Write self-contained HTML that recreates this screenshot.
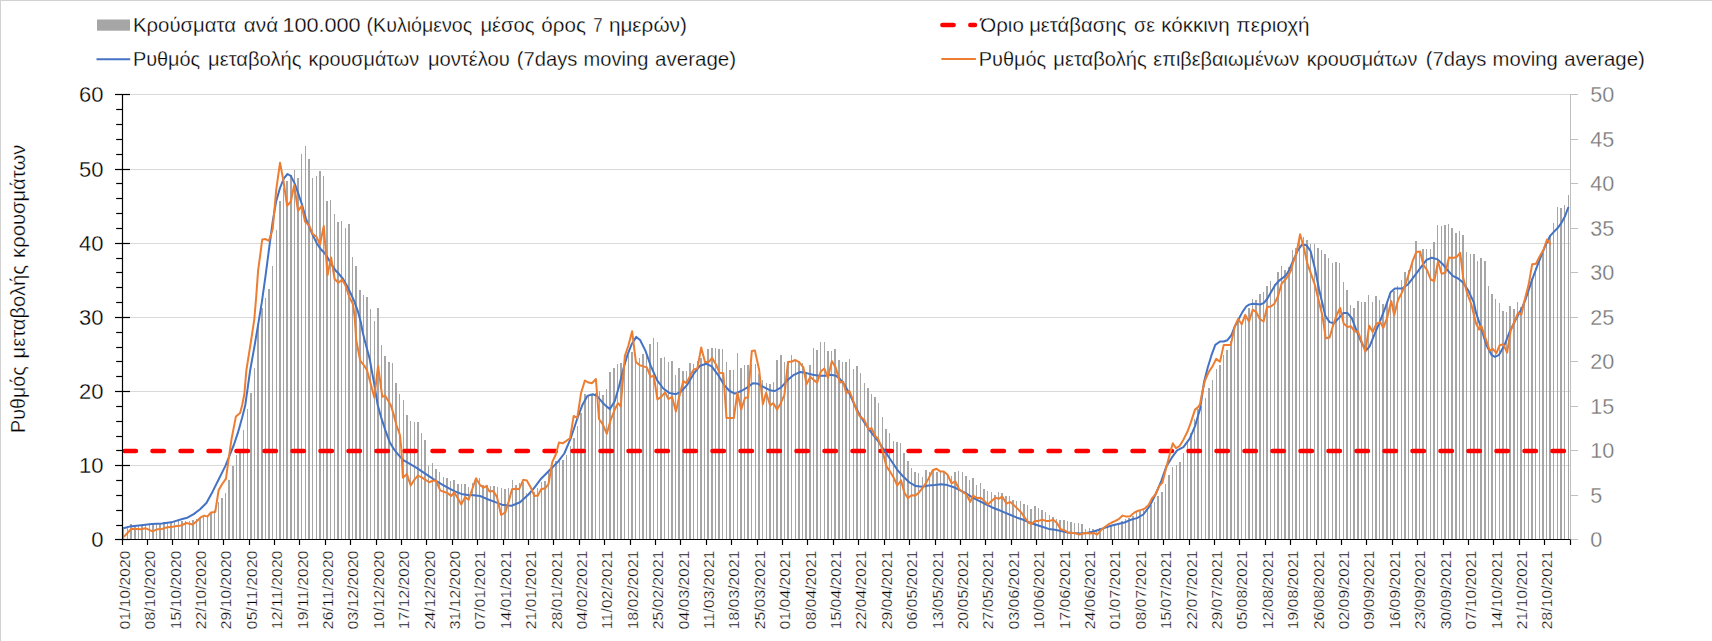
<!DOCTYPE html>
<html><head><meta charset="utf-8"><title>chart</title>
<style>
html,body{margin:0;padding:0;background:#fff;width:1712px;height:641px;overflow:hidden}
svg text{font-family:"Liberation Sans",sans-serif;stroke:#fff;stroke-width:0.3px}
</style></head><body>
<svg width="1712" height="641" viewBox="0 0 1712 641" style="position:absolute;left:0;top:0">
<rect x="0" y="0" width="1712" height="641" fill="#fff"/>
<rect x="0" y="0" width="1712" height="1" fill="#d2d2d2"/>
<rect x="0" y="0" width="1" height="641" fill="#d2d2d2"/>
<line x1="122.5" y1="465.50" x2="1570.5" y2="465.50" stroke="#d9d9d9" stroke-width="1"/>
<line x1="122.5" y1="391.50" x2="1570.5" y2="391.50" stroke="#d9d9d9" stroke-width="1"/>
<line x1="122.5" y1="317.50" x2="1570.5" y2="317.50" stroke="#d9d9d9" stroke-width="1"/>
<line x1="122.5" y1="243.50" x2="1570.5" y2="243.50" stroke="#d9d9d9" stroke-width="1"/>
<line x1="122.5" y1="169.50" x2="1570.5" y2="169.50" stroke="#d9d9d9" stroke-width="1"/>
<line x1="122.5" y1="94.50" x2="1570.5" y2="94.50" stroke="#d9d9d9" stroke-width="1"/>
<path d="M123,539.5V527h1V539.5zM127,539.5V526h1V539.5zM130,539.5V524h2V539.5zM134,539.5V525h2V539.5zM138,539.5V525h1V539.5zM141,539.5V525h2V539.5zM145,539.5V524h1V539.5zM149,539.5V524h1V539.5zM152,539.5V523h2V539.5zM156,539.5V523h1V539.5zM159,539.5V523h2V539.5zM163,539.5V522h2V539.5zM167,539.5V522h1V539.5zM170,539.5V522h2V539.5zM174,539.5V521h1V539.5zM178,539.5V521h1V539.5zM181,539.5V521h2V539.5zM185,539.5V521h1V539.5zM189,539.5V521h1V539.5zM192,539.5V520h2V539.5zM196,539.5V519h1V539.5zM199,539.5V518h2V539.5zM203,539.5V517h1V539.5zM207,539.5V515h1V539.5zM210,539.5V513h2V539.5zM214,539.5V510h1V539.5zM218,539.5V502h1V539.5zM221,539.5V498h2V539.5zM225,539.5V493h1V539.5zM228,539.5V480h2V539.5zM232,539.5V466h2V539.5zM236,539.5V455h1V539.5zM239,539.5V450h2V539.5zM243,539.5V430h1V539.5zM247,539.5V409h1V539.5zM250,539.5V393h2V539.5zM254,539.5V368h1V539.5zM257,539.5V324h2V539.5zM261,539.5V308h2V539.5zM265,539.5V298h1V539.5zM268,539.5V289h2V539.5zM272,539.5V266h1V539.5zM276,539.5V230h1V539.5zM279,539.5V201h2V539.5zM283,539.5V188h1V539.5zM286,539.5V181h2V539.5zM290,539.5V175h2V539.5zM294,539.5V170h1V539.5zM297,539.5V178h2V539.5zM301,539.5V154h1V539.5zM305,539.5V146h1V539.5zM308,539.5V159h2V539.5zM312,539.5V178h1V539.5zM316,539.5V176h1V539.5zM319,539.5V171h2V539.5zM323,539.5V176h1V539.5zM326,539.5V201h2V539.5zM330,539.5V200h1V539.5zM334,539.5V214h1V539.5zM337,539.5V222h2V539.5zM341,539.5V221h1V539.5zM345,539.5V228h1V539.5zM348,539.5V224h2V539.5zM352,539.5V257h1V539.5zM355,539.5V266h2V539.5zM359,539.5V290h2V539.5zM363,539.5V295h1V539.5zM366,539.5V297h2V539.5zM370,539.5V309h1V539.5zM374,539.5V321h1V539.5zM377,539.5V308h2V539.5zM381,539.5V345h1V539.5zM384,539.5V356h2V539.5zM388,539.5V362h2V539.5zM392,539.5V363h1V539.5zM395,539.5V383h2V539.5zM399,539.5V394h1V539.5zM403,539.5V400h1V539.5zM406,539.5V415h2V539.5zM410,539.5V421h1V539.5zM414,539.5V422h1V539.5zM417,539.5V422h2V539.5zM421,539.5V433h1V539.5zM424,539.5V440h2V539.5zM428,539.5V466h1V539.5zM432,539.5V463h1V539.5zM435,539.5V469h2V539.5zM439,539.5V472h1V539.5zM443,539.5V477h1V539.5zM446,539.5V478h2V539.5zM450,539.5V481h1V539.5zM453,539.5V480h2V539.5zM457,539.5V484h2V539.5zM461,539.5V484h1V539.5zM464,539.5V484h2V539.5zM468,539.5V487h1V539.5zM472,539.5V483h1V539.5zM475,539.5V478h2V539.5zM479,539.5V478h1V539.5zM482,539.5V485h2V539.5zM486,539.5V485h2V539.5zM490,539.5V486h1V539.5zM493,539.5V486h2V539.5zM497,539.5V487h1V539.5zM501,539.5V488h1V539.5zM504,539.5V489h2V539.5zM508,539.5V488h1V539.5zM512,539.5V480h1V539.5zM515,539.5V485h2V539.5zM519,539.5V483h1V539.5zM522,539.5V482h2V539.5zM526,539.5V493h1V539.5zM530,539.5V492h1V539.5zM533,539.5V492h2V539.5zM537,539.5V488h1V539.5zM541,539.5V482h1V539.5zM544,539.5V481h2V539.5zM548,539.5V472h1V539.5zM551,539.5V467h2V539.5zM555,539.5V461h2V539.5zM559,539.5V461h1V539.5zM562,539.5V460h2V539.5zM566,539.5V455h1V539.5zM570,539.5V446h1V539.5zM573,539.5V438h2V539.5zM577,539.5V426h1V539.5zM580,539.5V413h2V539.5zM584,539.5V394h2V539.5zM588,539.5V396h1V539.5zM591,539.5V395h2V539.5zM595,539.5V393h1V539.5zM599,539.5V391h1V539.5zM602,539.5V395h2V539.5zM606,539.5V389h1V539.5zM609,539.5V372h2V539.5zM613,539.5V368h2V539.5zM617,539.5V364h1V539.5zM620,539.5V363h2V539.5zM624,539.5V361h1V539.5zM628,539.5V355h1V539.5zM631,539.5V352h2V539.5zM635,539.5V357h1V539.5zM639,539.5V358h1V539.5zM642,539.5V354h2V539.5zM646,539.5V352h1V539.5zM649,539.5V344h2V539.5zM653,539.5V338h1V539.5zM657,539.5V342h1V539.5zM660,539.5V358h2V539.5zM664,539.5V357h1V539.5zM668,539.5V362h1V539.5zM671,539.5V361h2V539.5zM675,539.5V375h1V539.5zM678,539.5V368h2V539.5zM682,539.5V371h2V539.5zM686,539.5V371h1V539.5zM689,539.5V363h2V539.5zM693,539.5V364h1V539.5zM697,539.5V361h1V539.5zM700,539.5V358h2V539.5zM704,539.5V361h1V539.5zM707,539.5V349h2V539.5zM711,539.5V348h2V539.5zM715,539.5V348h1V539.5zM718,539.5V349h2V539.5zM722,539.5V349h1V539.5zM726,539.5V362h1V539.5zM729,539.5V370h2V539.5zM733,539.5V370h1V539.5zM737,539.5V353h1V539.5zM740,539.5V368h2V539.5zM744,539.5V365h1V539.5zM747,539.5V365h2V539.5zM751,539.5V364h1V539.5zM755,539.5V364h1V539.5zM758,539.5V374h2V539.5zM762,539.5V380h1V539.5zM766,539.5V383h1V539.5zM769,539.5V384h2V539.5zM773,539.5V382h1V539.5zM776,539.5V360h2V539.5zM780,539.5V355h2V539.5zM784,539.5V362h1V539.5zM787,539.5V361h2V539.5zM791,539.5V355h1V539.5zM795,539.5V360h1V539.5zM798,539.5V361h2V539.5zM802,539.5V363h1V539.5zM805,539.5V372h2V539.5zM809,539.5V365h2V539.5zM813,539.5V348h1V539.5zM816,539.5V350h2V539.5zM820,539.5V342h1V539.5zM824,539.5V342h1V539.5zM827,539.5V351h2V539.5zM831,539.5V351h1V539.5zM834,539.5V349h2V539.5zM838,539.5V360h2V539.5zM842,539.5V362h1V539.5zM845,539.5V362h2V539.5zM849,539.5V359h1V539.5zM853,539.5V369h1V539.5zM856,539.5V366h2V539.5zM860,539.5V373h1V539.5zM864,539.5V383h1V539.5zM867,539.5V388h2V539.5zM871,539.5V394h1V539.5zM874,539.5V397h2V539.5zM878,539.5V403h1V539.5zM882,539.5V417h1V539.5zM885,539.5V429h2V539.5zM889,539.5V433h1V539.5zM893,539.5V441h1V539.5zM896,539.5V442h2V539.5zM900,539.5V443h1V539.5zM903,539.5V453h2V539.5zM907,539.5V461h2V539.5zM911,539.5V468h1V539.5zM914,539.5V472h2V539.5zM918,539.5V473h1V539.5zM922,539.5V477h1V539.5zM925,539.5V470h2V539.5zM929,539.5V472h1V539.5zM932,539.5V471h2V539.5zM936,539.5V472h2V539.5zM940,539.5V471h1V539.5zM943,539.5V472h2V539.5zM947,539.5V474h1V539.5zM951,539.5V476h1V539.5zM954,539.5V472h2V539.5zM958,539.5V471h1V539.5zM962,539.5V472h1V539.5zM965,539.5V476h2V539.5zM969,539.5V480h1V539.5zM972,539.5V478h2V539.5zM976,539.5V485h1V539.5zM980,539.5V483h1V539.5zM983,539.5V489h2V539.5zM987,539.5V491h1V539.5zM991,539.5V492h1V539.5zM994,539.5V495h2V539.5zM998,539.5V492h1V539.5zM1001,539.5V493h2V539.5zM1005,539.5V496h2V539.5zM1009,539.5V496h1V539.5zM1012,539.5V500h2V539.5zM1016,539.5V501h1V539.5zM1020,539.5V501h1V539.5zM1023,539.5V504h2V539.5zM1027,539.5V505h1V539.5zM1030,539.5V509h2V539.5zM1034,539.5V506h2V539.5zM1038,539.5V508h1V539.5zM1041,539.5V510h2V539.5zM1045,539.5V512h1V539.5zM1049,539.5V515h1V539.5zM1052,539.5V517h2V539.5zM1056,539.5V519h1V539.5zM1059,539.5V520h2V539.5zM1063,539.5V520h2V539.5zM1067,539.5V521h1V539.5zM1070,539.5V522h2V539.5zM1074,539.5V523h1V539.5zM1078,539.5V523h1V539.5zM1081,539.5V524h2V539.5zM1085,539.5V529h1V539.5zM1089,539.5V528h1V539.5zM1092,539.5V529h2V539.5zM1096,539.5V530h1V539.5zM1099,539.5V528h2V539.5zM1103,539.5V527h1V539.5zM1107,539.5V526h1V539.5zM1110,539.5V525h2V539.5zM1114,539.5V524h1V539.5zM1118,539.5V523h1V539.5zM1121,539.5V521h2V539.5zM1125,539.5V519h1V539.5zM1128,539.5V518h2V539.5zM1132,539.5V516h2V539.5zM1136,539.5V512h1V539.5zM1139,539.5V511h2V539.5zM1143,539.5V510h1V539.5zM1147,539.5V509h1V539.5zM1150,539.5V505h2V539.5zM1154,539.5V502h1V539.5zM1157,539.5V496h2V539.5zM1161,539.5V492h2V539.5zM1165,539.5V484h1V539.5zM1168,539.5V475h2V539.5zM1172,539.5V467h1V539.5zM1176,539.5V465h1V539.5zM1179,539.5V462h2V539.5zM1183,539.5V453h1V539.5zM1187,539.5V441h1V539.5zM1190,539.5V433h2V539.5zM1194,539.5V419h1V539.5zM1197,539.5V409h2V539.5zM1201,539.5V406h1V539.5zM1205,539.5V398h1V539.5zM1208,539.5V388h2V539.5zM1212,539.5V380h1V539.5zM1216,539.5V369h1V539.5zM1219,539.5V365h2V539.5zM1223,539.5V355h1V539.5zM1226,539.5V350h2V539.5zM1230,539.5V341h2V539.5zM1234,539.5V325h1V539.5zM1237,539.5V321h2V539.5zM1241,539.5V322h1V539.5zM1245,539.5V315h1V539.5zM1248,539.5V308h2V539.5zM1252,539.5V299h1V539.5zM1255,539.5V300h2V539.5zM1259,539.5V294h2V539.5zM1263,539.5V292h1V539.5zM1266,539.5V286h2V539.5zM1270,539.5V281h1V539.5zM1274,539.5V284h1V539.5zM1277,539.5V272h2V539.5zM1281,539.5V266h1V539.5zM1284,539.5V270h2V539.5zM1288,539.5V267h2V539.5zM1292,539.5V250h1V539.5zM1295,539.5V248h2V539.5zM1299,539.5V235h1V539.5zM1303,539.5V237h1V539.5zM1306,539.5V240h2V539.5zM1310,539.5V244h1V539.5zM1314,539.5V244h1V539.5zM1317,539.5V248h2V539.5zM1321,539.5V250h1V539.5zM1324,539.5V254h2V539.5zM1328,539.5V258h1V539.5zM1332,539.5V263h1V539.5zM1335,539.5V262h2V539.5zM1339,539.5V263h1V539.5zM1343,539.5V282h1V539.5zM1346,539.5V290h2V539.5zM1350,539.5V305h1V539.5zM1353,539.5V308h2V539.5zM1357,539.5V301h2V539.5zM1361,539.5V302h1V539.5zM1364,539.5V302h2V539.5zM1368,539.5V295h1V539.5zM1372,539.5V302h1V539.5zM1375,539.5V296h2V539.5zM1379,539.5V300h1V539.5zM1382,539.5V304h2V539.5zM1386,539.5V303h2V539.5zM1390,539.5V295h1V539.5zM1393,539.5V291h2V539.5zM1397,539.5V286h1V539.5zM1401,539.5V280h1V539.5zM1404,539.5V272h2V539.5zM1408,539.5V270h1V539.5zM1412,539.5V263h1V539.5zM1415,539.5V241h2V539.5zM1419,539.5V252h1V539.5zM1422,539.5V249h2V539.5zM1426,539.5V249h1V539.5zM1430,539.5V249h1V539.5zM1433,539.5V242h2V539.5zM1437,539.5V225h1V539.5zM1441,539.5V226h1V539.5zM1444,539.5V225h2V539.5zM1448,539.5V224h1V539.5zM1451,539.5V228h2V539.5zM1455,539.5V233h2V539.5zM1459,539.5V231h1V539.5zM1462,539.5V235h2V539.5zM1466,539.5V252h1V539.5zM1470,539.5V254h1V539.5zM1473,539.5V254h2V539.5zM1477,539.5V261h1V539.5zM1480,539.5V258h2V539.5zM1484,539.5V261h2V539.5zM1488,539.5V286h1V539.5zM1491,539.5V294h2V539.5zM1495,539.5V299h1V539.5zM1499,539.5V303h1V539.5zM1502,539.5V311h2V539.5zM1506,539.5V312h1V539.5zM1509,539.5V306h2V539.5zM1513,539.5V309h2V539.5zM1517,539.5V302h1V539.5zM1520,539.5V307h2V539.5zM1524,539.5V300h1V539.5zM1528,539.5V293h1V539.5zM1531,539.5V278h2V539.5zM1535,539.5V268h1V539.5zM1539,539.5V260h1V539.5zM1542,539.5V253h2V539.5zM1546,539.5V244h1V539.5zM1549,539.5V235h2V539.5zM1553,539.5V223h1V539.5zM1557,539.5V207h1V539.5zM1560,539.5V208h2V539.5zM1564,539.5V205h1V539.5zM1568,539.5V195h1V539.5z" fill="#a6a6a6" shape-rendering="auto"/>
<line x1="1570.5" y1="94.0" x2="1570.5" y2="540.0" stroke="#bfbfbf" stroke-width="1"/>
<line x1="1570.5" y1="539.50" x2="1578.0" y2="539.50" stroke="#bfbfbf" stroke-width="1"/>
<text x="1590.3" y="547.2" font-size="21.6" fill="#737373">0</text>
<line x1="1570.5" y1="495.50" x2="1578.0" y2="495.50" stroke="#bfbfbf" stroke-width="1"/>
<text x="1590.3" y="503.2" font-size="21.6" fill="#737373">5</text>
<line x1="1570.5" y1="450.50" x2="1578.0" y2="450.50" stroke="#bfbfbf" stroke-width="1"/>
<text x="1590.3" y="458.2" font-size="21.6" fill="#737373">10</text>
<line x1="1570.5" y1="406.50" x2="1578.0" y2="406.50" stroke="#bfbfbf" stroke-width="1"/>
<text x="1590.3" y="414.2" font-size="21.6" fill="#737373">15</text>
<line x1="1570.5" y1="361.50" x2="1578.0" y2="361.50" stroke="#bfbfbf" stroke-width="1"/>
<text x="1590.3" y="369.2" font-size="21.6" fill="#737373">20</text>
<line x1="1570.5" y1="317.50" x2="1578.0" y2="317.50" stroke="#bfbfbf" stroke-width="1"/>
<text x="1590.3" y="325.2" font-size="21.6" fill="#737373">25</text>
<line x1="1570.5" y1="272.50" x2="1578.0" y2="272.50" stroke="#bfbfbf" stroke-width="1"/>
<text x="1590.3" y="280.2" font-size="21.6" fill="#737373">30</text>
<line x1="1570.5" y1="228.50" x2="1578.0" y2="228.50" stroke="#bfbfbf" stroke-width="1"/>
<text x="1590.3" y="236.2" font-size="21.6" fill="#737373">35</text>
<line x1="1570.5" y1="183.50" x2="1578.0" y2="183.50" stroke="#bfbfbf" stroke-width="1"/>
<text x="1590.3" y="191.2" font-size="21.6" fill="#737373">40</text>
<line x1="1570.5" y1="139.50" x2="1578.0" y2="139.50" stroke="#bfbfbf" stroke-width="1"/>
<text x="1590.3" y="147.2" font-size="21.6" fill="#737373">45</text>
<line x1="1570.5" y1="94.50" x2="1578.0" y2="94.50" stroke="#bfbfbf" stroke-width="1"/>
<text x="1590.3" y="102.2" font-size="21.6" fill="#737373">50</text>
<line x1="124.45" y1="451.00" x2="1569" y2="451.00" stroke="#ff0000" stroke-width="4.5" stroke-linecap="round" stroke-dasharray="11.5 16.5"/>
<path d="M124.3,528.0 L129.5,526.6 L141.1,525.3 L151.6,524.0 L162.1,523.6 L172.7,521.9 L183.2,518.8 L187.4,517.7 L193.7,514.1 L200.1,509.3 L206.4,503.0 L212.7,491.4 L219.0,478.7 L225.3,466.1 L229.5,455.6 L233.8,445.0 L238.0,432.4 L242.2,417.6 L245.3,405.0 L250.2,370.0 L254.3,347.4 L258.1,324.9 L261.8,302.4 L265.5,276.2 L268.9,250.0 L272.7,221.7 L276.2,201.1 L280.0,188.0 L283.7,178.7 L287.5,174.0 L290.8,175.9 L294.6,183.4 L298.3,193.7 L302.1,204.9 L305.9,218.5 L309.4,227.5 L313.1,235.9 L316.8,243.4 L320.6,249.0 L324.3,252.8 L328.1,258.4 L331.8,264.9 L335.6,270.5 L339.3,274.3 L343.1,279.0 L346.8,285.5 L350.5,293.0 L354.3,301.4 L358.0,311.7 L360.8,322.0 L362.7,332.3 L364.6,340.0 L369.6,358.5 L373.8,381.6 L377.7,405.0 L381.2,417.6 L385.4,430.3 L389.6,441.9 L393.9,449.2 L398.1,454.5 L403.3,460.2 L410.7,464.4 L417.0,468.2 L423.3,472.4 L429.7,476.6 L436.0,480.8 L442.3,484.6 L448.6,488.2 L454.9,491.4 L461.3,493.9 L467.6,495.0 L473.9,495.2 L480.0,496.0 L486.3,498.7 L494.7,501.9 L503.2,505.1 L511.6,505.7 L520.0,502.3 L528.5,494.5 L534.8,487.2 L541.1,478.7 L549.5,470.3 L557.9,461.9 L564.3,453.5 L570.6,438.7 L576.9,419.7 L582.2,405.3 L587.4,395.9 L592.7,394.2 L596.9,395.9 L602.2,402.2 L606.4,406.4 L610.0,409.1 L614.8,401.1 L619.0,386.4 L623.2,369.5 L627.5,354.8 L631.7,344.2 L636.3,336.9 L640.1,340.0 L645.4,350.6 L650.6,365.3 L657.0,380.1 L663.3,388.5 L669.6,393.1 L675.9,394.2 L681.2,391.6 L687.5,384.3 L693.8,373.7 L700.1,365.7 L706.5,363.8 L711.7,366.4 L718.0,374.8 L724.4,385.3 L729.6,391.0 L734.9,393.7 L741.2,391.0 L747.5,387.4 L752.8,383.2 L758.1,383.8 L763.3,386.8 L769.7,390.2 L774.9,391.0 L781.2,387.4 L787.6,380.1 L793.9,374.8 L800.2,372.0 L806.5,373.1 L812.8,374.8 L819.2,375.8 L825.5,375.8 L830.7,374.8 L836.0,375.8 L840.0,379.0 L844.2,384.3 L849.5,393.7 L854.7,405.3 L860.0,415.5 L865.3,424.0 L871.6,432.8 L877.9,440.8 L884.2,450.3 L890.6,459.8 L896.9,469.3 L903.2,476.6 L909.5,482.5 L915.8,486.1 L922.2,486.7 L928.5,485.5 L934.8,485.1 L941.1,484.2 L947.4,485.1 L953.8,487.2 L960.1,490.3 L966.4,493.5 L972.7,497.7 L979.0,500.9 L985.4,504.0 L991.7,507.2 L998.0,509.7 L1004.3,512.4 L1010.6,515.0 L1017.0,517.7 L1023.3,519.8 L1029.6,522.5 L1035.9,524.7 L1042.2,526.8 L1048.6,528.9 L1054.9,529.7 L1061.2,531.0 L1067.5,532.4 L1073.8,533.1 L1080.2,533.5 L1086.5,532.9 L1092.8,531.8 L1099.1,529.7 L1105.4,527.6 L1111.8,525.5 L1118.1,524.0 L1124.4,522.5 L1130.7,519.8 L1137.0,518.1 L1143.3,514.5 L1149.7,506.1 L1156.0,493.5 L1161.3,480.8 L1166.5,466.1 L1171.8,457.7 L1177.1,450.3 L1183.4,447.1 L1189.7,438.7 L1195.0,426.1 L1198.1,415.5 L1200.0,409.5 L1204.0,382.3 L1207.8,367.3 L1211.5,355.2 L1215.3,344.9 L1220.0,341.5 L1223.7,341.5 L1227.4,340.2 L1231.2,335.5 L1234.9,326.2 L1238.7,319.0 L1242.4,312.1 L1246.2,306.5 L1249.0,304.6 L1252.7,303.7 L1256.5,304.1 L1260.2,304.6 L1263.9,302.8 L1267.7,298.1 L1271.4,291.5 L1275.2,285.0 L1278.9,280.9 L1282.7,277.9 L1286.4,274.7 L1289.2,270.0 L1292.7,261.6 L1298.0,250.0 L1302.2,244.4 L1306.4,245.2 L1310.6,251.1 L1314.8,267.9 L1319.0,289.0 L1325.3,315.8 L1329.6,322.1 L1333.8,323.2 L1339.0,317.9 L1343.2,313.1 L1347.5,313.1 L1351.7,317.9 L1356.9,331.6 L1362.2,344.2 L1366.4,350.1 L1369.6,346.3 L1374.8,333.7 L1380.1,321.1 L1385.4,307.4 L1390.6,292.2 L1394.9,288.6 L1402.2,288.6 L1408.6,283.7 L1414.9,275.3 L1421.2,266.9 L1426.5,259.9 L1431.7,257.8 L1437.0,259.1 L1442.3,263.7 L1447.5,270.1 L1452.8,275.9 L1458.1,278.5 L1463.3,282.7 L1468.6,291.1 L1473.9,302.7 L1476.0,312.6 L1481.2,328.4 L1486.5,345.3 L1491.8,355.2 L1494.9,356.9 L1499.1,354.8 L1504.4,345.3 L1509.7,331.6 L1516.0,319.0 L1522.3,307.4 L1525.5,299.5 L1531.8,280.6 L1538.1,263.7 L1544.4,247.9 L1549.9,236.2 L1553.6,232.1 L1557.4,228.3 L1561.1,223.4 L1564.9,216.5 L1568.2,207.7" fill="none" stroke="#4472c4" stroke-width="2.0" stroke-linejoin="round" stroke-linecap="round"/>
<path d="M124.3,536.4 L127.9,532.5 L131.5,528.8 L135.8,528.9 L141.1,529.3 L145.3,528.2 L152.7,531.4 L156.9,529.3 L162.1,528.9 L167.4,527.2 L172.7,526.8 L176.9,526.1 L181.1,525.5 L186.4,523.0 L192.7,524.4 L196.9,520.9 L201.1,517.1 L204.3,515.6 L207.4,516.6 L211.0,512.4 L215.2,512.0 L218.6,490.3 L222.2,484.0 L226.0,478.7 L228.5,459.8 L231.6,438.7 L235.9,416.6 L240.1,413.0 L242.2,405.0 L244.3,394.3 L246.4,370.0 L250.6,343.6 L254.3,319.3 L256.2,296.8 L258.1,270.6 L260.9,250.0 L262.2,239.5 L265.6,239.1 L268.9,240.8 L272.7,229.2 L276.2,189.9 L280.0,162.8 L283.4,180.5 L287.1,205.8 L290.8,201.5 L294.2,185.2 L298.0,210.9 L301.7,205.8 L305.1,221.7 L309.0,225.2 L312.7,234.0 L316.5,236.8 L320.0,244.3 L323.8,226.0 L327.5,275.2 L331.1,257.4 L334.6,279.0 L338.4,282.7 L342.1,279.5 L345.5,285.5 L349.2,296.8 L353.0,304.2 L354.7,317.3 L356.2,340.0 L360.2,360.6 L364.4,365.9 L366.9,370.1 L370.7,383.8 L374.3,397.4 L378.1,365.9 L382.3,396.8 L385.0,395.6 L390.7,405.0 L393.4,413.4 L396.4,425.0 L399.8,434.5 L401.2,447.1 L402.9,477.7 L406.9,474.1 L410.7,485.5 L414.3,479.8 L417.9,475.6 L421.7,477.3 L425.5,479.8 L429.0,482.3 L432.8,480.8 L436.0,480.4 L440.2,490.3 L443.8,491.8 L447.6,493.1 L451.2,496.0 L454.3,492.4 L458.1,498.7 L461.3,504.4 L465.1,497.1 L468.6,499.8 L472.2,489.3 L476.0,478.3 L480.0,485.1 L483.6,487.6 L486.3,486.1 L489.5,491.4 L493.1,490.9 L496.9,496.6 L501.1,515.0 L505.3,512.4 L508.9,500.9 L512.0,489.3 L515.8,488.8 L519.0,489.3 L523.2,479.8 L526.8,480.4 L530.6,487.2 L534.4,496.0 L537.9,495.6 L541.1,489.3 L545.3,488.2 L548.5,484.0 L552.3,461.9 L555.8,454.5 L559.0,442.5 L562.6,443.3 L566.4,440.8 L570.0,438.3 L573.7,415.9 L577.3,418.0 L581.1,392.7 L584.9,380.5 L588.5,382.6 L592.1,383.2 L595.9,379.0 L599.0,419.0 L602.8,424.3 L606.8,433.8 L610.6,420.1 L614.8,409.5 L618.0,403.2 L620.7,406.4 L624.9,355.8 L628.5,345.3 L632.1,331.2 L635.9,362.1 L639.7,365.3 L643.3,366.4 L646.8,367.4 L650.6,376.9 L653.8,375.8 L657.4,399.4 L661.2,396.9 L665.0,392.3 L668.5,399.0 L672.1,396.9 L675.9,411.6 L679.7,394.8 L683.3,381.1 L686.4,383.2 L690.7,374.8 L693.8,369.5 L697.4,368.5 L701.2,347.4 L705.0,362.1 L708.6,362.1 L712.1,357.9 L715.9,364.3 L719.5,372.7 L723.3,373.3 L726.5,418.0 L733.8,418.0 L737.4,392.7 L741.2,409.5 L745.0,398.0 L748.0,397.3 L751.8,351.0 L754.9,350.6 L759.1,369.5 L762.9,404.3 L766.1,392.7 L770.1,405.3 L773.4,403.2 L777.0,409.5 L780.8,403.2 L784.4,394.8 L788.0,362.1 L791.8,361.5 L795.4,360.0 L799.1,362.1 L803.4,367.4 L806.5,384.3 L810.3,376.9 L813.9,380.1 L817.1,382.6 L820.8,371.6 L824.4,368.5 L828.0,377.9 L831.8,361.1 L835.6,367.4 L840.0,382.6 L843.2,381.7 L846.3,393.3 L849.5,391.0 L852.6,399.0 L856.9,411.3 L860.0,416.6 L864.2,419.7 L868.4,429.2 L871.6,428.2 L874.8,435.5 L877.9,438.7 L881.1,446.1 L883.2,453.5 L886.3,466.1 L890.6,472.4 L893.7,477.7 L897.3,485.5 L901.1,480.4 L904.3,492.4 L907.8,498.1 L911.6,495.2 L915.4,495.6 L919.0,492.4 L923.2,487.2 L928.5,478.7 L932.7,470.3 L936.5,468.8 L940.1,471.4 L943.6,471.4 L947.4,474.5 L951.6,483.4 L955.2,481.3 L959.0,489.3 L962.6,491.8 L966.4,494.5 L970.2,501.9 L973.1,495.6 L976.9,498.1 L980.7,497.7 L984.3,500.9 L987.9,504.4 L991.7,500.9 L995.3,497.7 L999.0,498.7 L1002.2,496.6 L1006.4,503.6 L1010.2,501.9 L1013.8,505.1 L1017.4,508.6 L1021.2,512.4 L1024.7,517.7 L1028.5,522.5 L1031.7,524.0 L1034.9,520.9 L1038.4,520.9 L1042.2,519.8 L1046.0,520.9 L1049.6,520.9 L1053.2,519.8 L1057.0,523.0 L1060.6,529.3 L1064.4,530.3 L1067.9,532.4 L1071.7,533.1 L1075.3,533.1 L1079.1,534.6 L1082.7,533.5 L1086.5,533.1 L1090.1,533.5 L1093.8,532.9 L1097.0,534.6 L1100.8,530.3 L1104.4,527.2 L1108.0,524.7 L1111.8,522.5 L1115.5,520.9 L1119.1,518.8 L1122.7,515.6 L1126.5,516.6 L1130.1,516.2 L1133.9,512.9 L1137.5,511.0 L1141.2,509.9 L1144.8,508.6 L1148.6,505.1 L1151.8,498.7 L1155.4,494.5 L1159.1,486.1 L1162.3,482.9 L1166.1,468.2 L1169.7,454.5 L1172.8,443.3 L1176.0,448.2 L1179.6,446.1 L1183.4,439.8 L1187.6,431.3 L1190.7,422.9 L1195.0,409.6 L1198.1,407.1 L1200.0,404.3 L1202.7,390.0 L1205.0,380.5 L1208.7,372.0 L1212.5,366.4 L1216.2,358.9 L1220.0,361.7 L1223.7,344.9 L1227.4,344.9 L1230.8,344.9 L1234.6,327.1 L1238.1,319.0 L1241.7,324.3 L1245.2,314.9 L1249.0,321.5 L1252.7,309.7 L1256.3,312.1 L1259.8,319.0 L1263.6,321.5 L1267.1,307.1 L1270.9,306.5 L1274.4,303.7 L1278.0,296.2 L1281.7,283.5 L1285.5,279.4 L1288.8,274.7 L1291.1,270.0 L1292.7,263.7 L1296.5,253.2 L1300.1,234.2 L1303.9,247.9 L1307.4,263.7 L1311.2,274.3 L1314.8,284.8 L1318.4,299.5 L1322.2,314.7 L1325.8,338.3 L1329.6,337.5 L1333.1,325.3 L1336.9,314.7 L1340.1,308.0 L1343.7,323.6 L1347.5,327.0 L1351.0,326.3 L1354.8,331.6 L1358.0,331.6 L1361.8,342.1 L1365.4,351.6 L1369.2,325.7 L1372.7,332.0 L1376.5,323.6 L1380.1,322.1 L1383.3,327.8 L1387.1,317.9 L1391.3,301.1 L1394.2,315.2 L1398.0,300.0 L1401.6,293.2 L1405.4,284.8 L1409.0,273.2 L1412.8,260.6 L1416.3,252.1 L1420.1,251.5 L1423.3,264.8 L1427.1,270.1 L1430.7,279.5 L1434.3,281.0 L1438.0,261.6 L1441.6,273.8 L1445.4,272.8 L1449.0,257.4 L1452.8,258.0 L1456.6,257.0 L1460.2,252.8 L1463.3,278.5 L1467.1,293.2 L1471.2,304.0 L1476.0,323.2 L1479.1,329.5 L1481.2,325.7 L1485.4,337.9 L1489.7,350.6 L1492.8,348.9 L1496.4,353.1 L1499.6,345.3 L1503.3,344.2 L1507.1,352.7 L1510.7,330.5 L1514.3,322.1 L1518.1,312.6 L1521.3,314.7 L1524.8,299.5 L1528.6,284.8 L1532.2,264.2 L1536.0,263.7 L1539.6,256.4 L1543.4,250.0 L1547.0,239.5 L1550.1,243.7" fill="none" stroke="#ed7d31" stroke-width="2.0" stroke-linejoin="round" stroke-linecap="round"/>
<line x1="122.5" y1="94.0" x2="122.5" y2="540.0" stroke="#000" stroke-width="1.2"/>
<line x1="115" y1="539.50" x2="130" y2="539.50" stroke="#000" stroke-width="1.2"/>
<text x="103.6" y="547.2" font-size="22" fill="#000" text-anchor="end">0</text>
<line x1="116.2" y1="525.50" x2="122.5" y2="525.50" stroke="#000" stroke-width="1.2"/>
<line x1="116.2" y1="510.50" x2="122.5" y2="510.50" stroke="#000" stroke-width="1.2"/>
<line x1="116.2" y1="495.50" x2="122.5" y2="495.50" stroke="#000" stroke-width="1.2"/>
<line x1="116.2" y1="480.50" x2="122.5" y2="480.50" stroke="#000" stroke-width="1.2"/>
<line x1="115" y1="465.50" x2="130" y2="465.50" stroke="#000" stroke-width="1.2"/>
<text x="103.6" y="473.2" font-size="22" fill="#000" text-anchor="end">10</text>
<line x1="116.2" y1="450.50" x2="122.5" y2="450.50" stroke="#000" stroke-width="1.2"/>
<line x1="116.2" y1="436.50" x2="122.5" y2="436.50" stroke="#000" stroke-width="1.2"/>
<line x1="116.2" y1="421.50" x2="122.5" y2="421.50" stroke="#000" stroke-width="1.2"/>
<line x1="116.2" y1="406.50" x2="122.5" y2="406.50" stroke="#000" stroke-width="1.2"/>
<line x1="115" y1="391.50" x2="130" y2="391.50" stroke="#000" stroke-width="1.2"/>
<text x="103.6" y="399.2" font-size="22" fill="#000" text-anchor="end">20</text>
<line x1="116.2" y1="376.50" x2="122.5" y2="376.50" stroke="#000" stroke-width="1.2"/>
<line x1="116.2" y1="361.50" x2="122.5" y2="361.50" stroke="#000" stroke-width="1.2"/>
<line x1="116.2" y1="347.50" x2="122.5" y2="347.50" stroke="#000" stroke-width="1.2"/>
<line x1="116.2" y1="332.50" x2="122.5" y2="332.50" stroke="#000" stroke-width="1.2"/>
<line x1="115" y1="317.50" x2="130" y2="317.50" stroke="#000" stroke-width="1.2"/>
<text x="103.6" y="325.2" font-size="22" fill="#000" text-anchor="end">30</text>
<line x1="116.2" y1="302.50" x2="122.5" y2="302.50" stroke="#000" stroke-width="1.2"/>
<line x1="116.2" y1="287.50" x2="122.5" y2="287.50" stroke="#000" stroke-width="1.2"/>
<line x1="116.2" y1="272.50" x2="122.5" y2="272.50" stroke="#000" stroke-width="1.2"/>
<line x1="116.2" y1="258.50" x2="122.5" y2="258.50" stroke="#000" stroke-width="1.2"/>
<line x1="115" y1="243.50" x2="130" y2="243.50" stroke="#000" stroke-width="1.2"/>
<text x="103.6" y="251.2" font-size="22" fill="#000" text-anchor="end">40</text>
<line x1="116.2" y1="228.50" x2="122.5" y2="228.50" stroke="#000" stroke-width="1.2"/>
<line x1="116.2" y1="213.50" x2="122.5" y2="213.50" stroke="#000" stroke-width="1.2"/>
<line x1="116.2" y1="198.50" x2="122.5" y2="198.50" stroke="#000" stroke-width="1.2"/>
<line x1="116.2" y1="183.50" x2="122.5" y2="183.50" stroke="#000" stroke-width="1.2"/>
<line x1="115" y1="169.50" x2="130" y2="169.50" stroke="#000" stroke-width="1.2"/>
<text x="103.6" y="177.2" font-size="22" fill="#000" text-anchor="end">50</text>
<line x1="116.2" y1="154.50" x2="122.5" y2="154.50" stroke="#000" stroke-width="1.2"/>
<line x1="116.2" y1="139.50" x2="122.5" y2="139.50" stroke="#000" stroke-width="1.2"/>
<line x1="116.2" y1="124.50" x2="122.5" y2="124.50" stroke="#000" stroke-width="1.2"/>
<line x1="116.2" y1="109.50" x2="122.5" y2="109.50" stroke="#000" stroke-width="1.2"/>
<line x1="115" y1="94.50" x2="130" y2="94.50" stroke="#000" stroke-width="1.2"/>
<text x="103.6" y="102.2" font-size="22" fill="#000" text-anchor="end">60</text>
<line x1="122.0" y1="539.5" x2="1570.0" y2="539.5" stroke="#000" stroke-width="1.2"/>
<line x1="122.50" y1="539.5" x2="122.50" y2="545.0" stroke="#000" stroke-width="1.2"/>
<text transform="translate(129.71,550.6) rotate(-90)" font-size="15.5" fill="#000" text-anchor="end" textLength="78.6" lengthAdjust="spacing">01/10/2020</text>
<line x1="147.50" y1="539.5" x2="147.50" y2="545.0" stroke="#000" stroke-width="1.2"/>
<text transform="translate(155.12,550.6) rotate(-90)" font-size="15.5" fill="#000" text-anchor="end" textLength="78.6" lengthAdjust="spacing">08/10/2020</text>
<line x1="172.50" y1="539.5" x2="172.50" y2="545.0" stroke="#000" stroke-width="1.2"/>
<text transform="translate(180.52,550.6) rotate(-90)" font-size="15.5" fill="#000" text-anchor="end" textLength="78.6" lengthAdjust="spacing">15/10/2020</text>
<line x1="198.50" y1="539.5" x2="198.50" y2="545.0" stroke="#000" stroke-width="1.2"/>
<text transform="translate(205.93,550.6) rotate(-90)" font-size="15.5" fill="#000" text-anchor="end" textLength="78.6" lengthAdjust="spacing">22/10/2020</text>
<line x1="223.50" y1="539.5" x2="223.50" y2="545.0" stroke="#000" stroke-width="1.2"/>
<text transform="translate(231.33,550.6) rotate(-90)" font-size="15.5" fill="#000" text-anchor="end" textLength="78.6" lengthAdjust="spacing">29/10/2020</text>
<line x1="249.50" y1="539.5" x2="249.50" y2="545.0" stroke="#000" stroke-width="1.2"/>
<text transform="translate(256.73,550.6) rotate(-90)" font-size="15.5" fill="#000" text-anchor="end" textLength="78.6" lengthAdjust="spacing">05/11/2020</text>
<line x1="274.50" y1="539.5" x2="274.50" y2="545.0" stroke="#000" stroke-width="1.2"/>
<text transform="translate(282.14,550.6) rotate(-90)" font-size="15.5" fill="#000" text-anchor="end" textLength="78.6" lengthAdjust="spacing">12/11/2020</text>
<line x1="299.50" y1="539.5" x2="299.50" y2="545.0" stroke="#000" stroke-width="1.2"/>
<text transform="translate(307.54,550.6) rotate(-90)" font-size="15.5" fill="#000" text-anchor="end" textLength="78.6" lengthAdjust="spacing">19/11/2020</text>
<line x1="325.50" y1="539.5" x2="325.50" y2="545.0" stroke="#000" stroke-width="1.2"/>
<text transform="translate(332.94,550.6) rotate(-90)" font-size="15.5" fill="#000" text-anchor="end" textLength="78.6" lengthAdjust="spacing">26/11/2020</text>
<line x1="350.50" y1="539.5" x2="350.50" y2="545.0" stroke="#000" stroke-width="1.2"/>
<text transform="translate(358.35,550.6) rotate(-90)" font-size="15.5" fill="#000" text-anchor="end" textLength="78.6" lengthAdjust="spacing">03/12/2020</text>
<line x1="376.50" y1="539.5" x2="376.50" y2="545.0" stroke="#000" stroke-width="1.2"/>
<text transform="translate(383.75,550.6) rotate(-90)" font-size="15.5" fill="#000" text-anchor="end" textLength="78.6" lengthAdjust="spacing">10/12/2020</text>
<line x1="401.50" y1="539.5" x2="401.50" y2="545.0" stroke="#000" stroke-width="1.2"/>
<text transform="translate(409.15,550.6) rotate(-90)" font-size="15.5" fill="#000" text-anchor="end" textLength="78.6" lengthAdjust="spacing">17/12/2020</text>
<line x1="426.50" y1="539.5" x2="426.50" y2="545.0" stroke="#000" stroke-width="1.2"/>
<text transform="translate(434.56,550.6) rotate(-90)" font-size="15.5" fill="#000" text-anchor="end" textLength="78.6" lengthAdjust="spacing">24/12/2020</text>
<line x1="452.50" y1="539.5" x2="452.50" y2="545.0" stroke="#000" stroke-width="1.2"/>
<text transform="translate(459.96,550.6) rotate(-90)" font-size="15.5" fill="#000" text-anchor="end" textLength="78.6" lengthAdjust="spacing">31/12/2020</text>
<line x1="477.50" y1="539.5" x2="477.50" y2="545.0" stroke="#000" stroke-width="1.2"/>
<text transform="translate(485.36,550.6) rotate(-90)" font-size="15.5" fill="#000" text-anchor="end" textLength="78.6" lengthAdjust="spacing">07/01/2021</text>
<line x1="503.50" y1="539.5" x2="503.50" y2="545.0" stroke="#000" stroke-width="1.2"/>
<text transform="translate(510.77,550.6) rotate(-90)" font-size="15.5" fill="#000" text-anchor="end" textLength="78.6" lengthAdjust="spacing">14/01/2021</text>
<line x1="528.50" y1="539.5" x2="528.50" y2="545.0" stroke="#000" stroke-width="1.2"/>
<text transform="translate(536.17,550.6) rotate(-90)" font-size="15.5" fill="#000" text-anchor="end" textLength="78.6" lengthAdjust="spacing">21/01/2021</text>
<line x1="553.50" y1="539.5" x2="553.50" y2="545.0" stroke="#000" stroke-width="1.2"/>
<text transform="translate(561.57,550.6) rotate(-90)" font-size="15.5" fill="#000" text-anchor="end" textLength="78.6" lengthAdjust="spacing">28/01/2021</text>
<line x1="579.50" y1="539.5" x2="579.50" y2="545.0" stroke="#000" stroke-width="1.2"/>
<text transform="translate(586.98,550.6) rotate(-90)" font-size="15.5" fill="#000" text-anchor="end" textLength="78.6" lengthAdjust="spacing">04/02/2021</text>
<line x1="604.50" y1="539.5" x2="604.50" y2="545.0" stroke="#000" stroke-width="1.2"/>
<text transform="translate(612.38,550.6) rotate(-90)" font-size="15.5" fill="#000" text-anchor="end" textLength="78.6" lengthAdjust="spacing">11/02/2021</text>
<line x1="630.50" y1="539.5" x2="630.50" y2="545.0" stroke="#000" stroke-width="1.2"/>
<text transform="translate(637.78,550.6) rotate(-90)" font-size="15.5" fill="#000" text-anchor="end" textLength="78.6" lengthAdjust="spacing">18/02/2021</text>
<line x1="655.50" y1="539.5" x2="655.50" y2="545.0" stroke="#000" stroke-width="1.2"/>
<text transform="translate(663.19,550.6) rotate(-90)" font-size="15.5" fill="#000" text-anchor="end" textLength="78.6" lengthAdjust="spacing">25/02/2021</text>
<line x1="680.50" y1="539.5" x2="680.50" y2="545.0" stroke="#000" stroke-width="1.2"/>
<text transform="translate(688.59,550.6) rotate(-90)" font-size="15.5" fill="#000" text-anchor="end" textLength="78.6" lengthAdjust="spacing">04/03/2021</text>
<line x1="706.50" y1="539.5" x2="706.50" y2="545.0" stroke="#000" stroke-width="1.2"/>
<text transform="translate(714.00,550.6) rotate(-90)" font-size="15.5" fill="#000" text-anchor="end" textLength="78.6" lengthAdjust="spacing">11/03/2021</text>
<line x1="731.50" y1="539.5" x2="731.50" y2="545.0" stroke="#000" stroke-width="1.2"/>
<text transform="translate(739.40,550.6) rotate(-90)" font-size="15.5" fill="#000" text-anchor="end" textLength="78.6" lengthAdjust="spacing">18/03/2021</text>
<line x1="757.50" y1="539.5" x2="757.50" y2="545.0" stroke="#000" stroke-width="1.2"/>
<text transform="translate(764.80,550.6) rotate(-90)" font-size="15.5" fill="#000" text-anchor="end" textLength="78.6" lengthAdjust="spacing">25/03/2021</text>
<line x1="782.50" y1="539.5" x2="782.50" y2="545.0" stroke="#000" stroke-width="1.2"/>
<text transform="translate(790.21,550.6) rotate(-90)" font-size="15.5" fill="#000" text-anchor="end" textLength="78.6" lengthAdjust="spacing">01/04/2021</text>
<line x1="807.50" y1="539.5" x2="807.50" y2="545.0" stroke="#000" stroke-width="1.2"/>
<text transform="translate(815.61,550.6) rotate(-90)" font-size="15.5" fill="#000" text-anchor="end" textLength="78.6" lengthAdjust="spacing">08/04/2021</text>
<line x1="833.50" y1="539.5" x2="833.50" y2="545.0" stroke="#000" stroke-width="1.2"/>
<text transform="translate(841.01,550.6) rotate(-90)" font-size="15.5" fill="#000" text-anchor="end" textLength="78.6" lengthAdjust="spacing">15/04/2021</text>
<line x1="858.50" y1="539.5" x2="858.50" y2="545.0" stroke="#000" stroke-width="1.2"/>
<text transform="translate(866.42,550.6) rotate(-90)" font-size="15.5" fill="#000" text-anchor="end" textLength="78.6" lengthAdjust="spacing">22/04/2021</text>
<line x1="884.50" y1="539.5" x2="884.50" y2="545.0" stroke="#000" stroke-width="1.2"/>
<text transform="translate(891.82,550.6) rotate(-90)" font-size="15.5" fill="#000" text-anchor="end" textLength="78.6" lengthAdjust="spacing">29/04/2021</text>
<line x1="909.50" y1="539.5" x2="909.50" y2="545.0" stroke="#000" stroke-width="1.2"/>
<text transform="translate(917.22,550.6) rotate(-90)" font-size="15.5" fill="#000" text-anchor="end" textLength="78.6" lengthAdjust="spacing">06/05/2021</text>
<line x1="935.50" y1="539.5" x2="935.50" y2="545.0" stroke="#000" stroke-width="1.2"/>
<text transform="translate(942.63,550.6) rotate(-90)" font-size="15.5" fill="#000" text-anchor="end" textLength="78.6" lengthAdjust="spacing">13/05/2021</text>
<line x1="960.50" y1="539.5" x2="960.50" y2="545.0" stroke="#000" stroke-width="1.2"/>
<text transform="translate(968.03,550.6) rotate(-90)" font-size="15.5" fill="#000" text-anchor="end" textLength="78.6" lengthAdjust="spacing">20/05/2021</text>
<line x1="985.50" y1="539.5" x2="985.50" y2="545.0" stroke="#000" stroke-width="1.2"/>
<text transform="translate(993.43,550.6) rotate(-90)" font-size="15.5" fill="#000" text-anchor="end" textLength="78.6" lengthAdjust="spacing">27/05/2021</text>
<line x1="1011.50" y1="539.5" x2="1011.50" y2="545.0" stroke="#000" stroke-width="1.2"/>
<text transform="translate(1018.84,550.6) rotate(-90)" font-size="15.5" fill="#000" text-anchor="end" textLength="78.6" lengthAdjust="spacing">03/06/2021</text>
<line x1="1036.50" y1="539.5" x2="1036.50" y2="545.0" stroke="#000" stroke-width="1.2"/>
<text transform="translate(1044.24,550.6) rotate(-90)" font-size="15.5" fill="#000" text-anchor="end" textLength="78.6" lengthAdjust="spacing">10/06/2021</text>
<line x1="1062.50" y1="539.5" x2="1062.50" y2="545.0" stroke="#000" stroke-width="1.2"/>
<text transform="translate(1069.64,550.6) rotate(-90)" font-size="15.5" fill="#000" text-anchor="end" textLength="78.6" lengthAdjust="spacing">17/06/2021</text>
<line x1="1087.50" y1="539.5" x2="1087.50" y2="545.0" stroke="#000" stroke-width="1.2"/>
<text transform="translate(1095.05,550.6) rotate(-90)" font-size="15.5" fill="#000" text-anchor="end" textLength="78.6" lengthAdjust="spacing">24/06/2021</text>
<line x1="1112.50" y1="539.5" x2="1112.50" y2="545.0" stroke="#000" stroke-width="1.2"/>
<text transform="translate(1120.45,550.6) rotate(-90)" font-size="15.5" fill="#000" text-anchor="end" textLength="78.6" lengthAdjust="spacing">01/07/2021</text>
<line x1="1138.50" y1="539.5" x2="1138.50" y2="545.0" stroke="#000" stroke-width="1.2"/>
<text transform="translate(1145.85,550.6) rotate(-90)" font-size="15.5" fill="#000" text-anchor="end" textLength="78.6" lengthAdjust="spacing">08/07/2021</text>
<line x1="1163.50" y1="539.5" x2="1163.50" y2="545.0" stroke="#000" stroke-width="1.2"/>
<text transform="translate(1171.26,550.6) rotate(-90)" font-size="15.5" fill="#000" text-anchor="end" textLength="78.6" lengthAdjust="spacing">15/07/2021</text>
<line x1="1189.50" y1="539.5" x2="1189.50" y2="545.0" stroke="#000" stroke-width="1.2"/>
<text transform="translate(1196.66,550.6) rotate(-90)" font-size="15.5" fill="#000" text-anchor="end" textLength="78.6" lengthAdjust="spacing">22/07/2021</text>
<line x1="1214.50" y1="539.5" x2="1214.50" y2="545.0" stroke="#000" stroke-width="1.2"/>
<text transform="translate(1222.07,550.6) rotate(-90)" font-size="15.5" fill="#000" text-anchor="end" textLength="78.6" lengthAdjust="spacing">29/07/2021</text>
<line x1="1239.50" y1="539.5" x2="1239.50" y2="545.0" stroke="#000" stroke-width="1.2"/>
<text transform="translate(1247.47,550.6) rotate(-90)" font-size="15.5" fill="#000" text-anchor="end" textLength="78.6" lengthAdjust="spacing">05/08/2021</text>
<line x1="1265.50" y1="539.5" x2="1265.50" y2="545.0" stroke="#000" stroke-width="1.2"/>
<text transform="translate(1272.87,550.6) rotate(-90)" font-size="15.5" fill="#000" text-anchor="end" textLength="78.6" lengthAdjust="spacing">12/08/2021</text>
<line x1="1290.50" y1="539.5" x2="1290.50" y2="545.0" stroke="#000" stroke-width="1.2"/>
<text transform="translate(1298.28,550.6) rotate(-90)" font-size="15.5" fill="#000" text-anchor="end" textLength="78.6" lengthAdjust="spacing">19/08/2021</text>
<line x1="1316.50" y1="539.5" x2="1316.50" y2="545.0" stroke="#000" stroke-width="1.2"/>
<text transform="translate(1323.68,550.6) rotate(-90)" font-size="15.5" fill="#000" text-anchor="end" textLength="78.6" lengthAdjust="spacing">26/08/2021</text>
<line x1="1341.50" y1="539.5" x2="1341.50" y2="545.0" stroke="#000" stroke-width="1.2"/>
<text transform="translate(1349.08,550.6) rotate(-90)" font-size="15.5" fill="#000" text-anchor="end" textLength="78.6" lengthAdjust="spacing">02/09/2021</text>
<line x1="1366.50" y1="539.5" x2="1366.50" y2="545.0" stroke="#000" stroke-width="1.2"/>
<text transform="translate(1374.49,550.6) rotate(-90)" font-size="15.5" fill="#000" text-anchor="end" textLength="78.6" lengthAdjust="spacing">09/09/2021</text>
<line x1="1392.50" y1="539.5" x2="1392.50" y2="545.0" stroke="#000" stroke-width="1.2"/>
<text transform="translate(1399.89,550.6) rotate(-90)" font-size="15.5" fill="#000" text-anchor="end" textLength="78.6" lengthAdjust="spacing">16/09/2021</text>
<line x1="1417.50" y1="539.5" x2="1417.50" y2="545.0" stroke="#000" stroke-width="1.2"/>
<text transform="translate(1425.29,550.6) rotate(-90)" font-size="15.5" fill="#000" text-anchor="end" textLength="78.6" lengthAdjust="spacing">23/09/2021</text>
<line x1="1443.50" y1="539.5" x2="1443.50" y2="545.0" stroke="#000" stroke-width="1.2"/>
<text transform="translate(1450.70,550.6) rotate(-90)" font-size="15.5" fill="#000" text-anchor="end" textLength="78.6" lengthAdjust="spacing">30/09/2021</text>
<line x1="1468.50" y1="539.5" x2="1468.50" y2="545.0" stroke="#000" stroke-width="1.2"/>
<text transform="translate(1476.10,550.6) rotate(-90)" font-size="15.5" fill="#000" text-anchor="end" textLength="78.6" lengthAdjust="spacing">07/10/2021</text>
<line x1="1493.50" y1="539.5" x2="1493.50" y2="545.0" stroke="#000" stroke-width="1.2"/>
<text transform="translate(1501.50,550.6) rotate(-90)" font-size="15.5" fill="#000" text-anchor="end" textLength="78.6" lengthAdjust="spacing">14/10/2021</text>
<line x1="1519.50" y1="539.5" x2="1519.50" y2="545.0" stroke="#000" stroke-width="1.2"/>
<text transform="translate(1526.91,550.6) rotate(-90)" font-size="15.5" fill="#000" text-anchor="end" textLength="78.6" lengthAdjust="spacing">21/10/2021</text>
<line x1="1544.50" y1="539.5" x2="1544.50" y2="545.0" stroke="#000" stroke-width="1.2"/>
<text transform="translate(1552.31,550.6) rotate(-90)" font-size="15.5" fill="#000" text-anchor="end" textLength="78.6" lengthAdjust="spacing">28/10/2021</text>
<line x1="1570.50" y1="539.5" x2="1570.50" y2="545.0" stroke="#000" stroke-width="1.2"/>
<text x="132.92" y="32.00" font-size="21" fill="#000" textLength="103.20" lengthAdjust="spacingAndGlyphs">Κρούσματα</text>
<text x="243.82" y="32.00" font-size="21" fill="#000" textLength="34.30" lengthAdjust="spacingAndGlyphs">ανά</text>
<text x="282.40" y="32.00" font-size="21" fill="#000" textLength="78.22" lengthAdjust="spacingAndGlyphs">100.000</text>
<text x="366.60" y="32.00" font-size="21" fill="#000" textLength="105.60" lengthAdjust="spacingAndGlyphs">(Κυλιόμενος</text>
<text x="480.40" y="32.00" font-size="21" fill="#000" textLength="54.25" lengthAdjust="spacingAndGlyphs">μέσος</text>
<text x="541.36" y="32.00" font-size="21" fill="#000" textLength="44.54" lengthAdjust="spacingAndGlyphs">όρος</text>
<text x="593.34" y="32.00" font-size="21" fill="#000" textLength="9.30" lengthAdjust="spacingAndGlyphs">7</text>
<text x="608.90" y="32.00" font-size="21" fill="#000" textLength="77.96" lengthAdjust="spacingAndGlyphs">ημερών)</text>
<text x="132.92" y="66.30" font-size="21" fill="#000" textLength="67.26" lengthAdjust="spacingAndGlyphs">Ρυθμός</text>
<text x="208.12" y="66.30" font-size="21" fill="#000" textLength="93.28" lengthAdjust="spacingAndGlyphs">μεταβολής</text>
<text x="308.40" y="66.30" font-size="21" fill="#000" textLength="110.78" lengthAdjust="spacingAndGlyphs">κρουσμάτων</text>
<text x="427.88" y="66.30" font-size="21" fill="#000" textLength="82.02" lengthAdjust="spacingAndGlyphs">μοντέλου</text>
<text x="516.86" y="66.30" font-size="21" fill="#000" textLength="60.58" lengthAdjust="spacingAndGlyphs">(7days</text>
<text x="583.60" y="66.30" font-size="21" fill="#000" textLength="64.76" lengthAdjust="spacingAndGlyphs">moving</text>
<text x="655.10" y="66.30" font-size="21" fill="#000" textLength="81.00" lengthAdjust="spacingAndGlyphs">average)</text>
<text x="980.26" y="32.00" font-size="21" fill="#000" textLength="43.60" lengthAdjust="spacingAndGlyphs">Όριο</text>
<text x="1029.15" y="32.00" font-size="21" fill="#000" textLength="97.03" lengthAdjust="spacingAndGlyphs">μετάβασης</text>
<text x="1134.12" y="32.00" font-size="21" fill="#000" textLength="20.76" lengthAdjust="spacingAndGlyphs">σε</text>
<text x="1161.15" y="32.00" font-size="21" fill="#000" textLength="68.47" lengthAdjust="spacingAndGlyphs">κόκκινη</text>
<text x="1236.36" y="32.00" font-size="21" fill="#000" textLength="73.26" lengthAdjust="spacingAndGlyphs">περιοχή</text>
<text x="978.86" y="66.30" font-size="21" fill="#000" textLength="67.30" lengthAdjust="spacingAndGlyphs">Ρυθμός</text>
<text x="1053.36" y="66.30" font-size="21" fill="#000" textLength="93.29" lengthAdjust="spacingAndGlyphs">μεταβολής</text>
<text x="1153.36" y="66.30" font-size="21" fill="#000" textLength="145.80" lengthAdjust="spacingAndGlyphs">επιβεβαιωμένων</text>
<text x="1306.64" y="66.30" font-size="21" fill="#000" textLength="110.74" lengthAdjust="spacingAndGlyphs">κρουσμάτων</text>
<text x="1425.86" y="66.30" font-size="21" fill="#000" textLength="60.58" lengthAdjust="spacingAndGlyphs">(7days</text>
<text x="1492.62" y="66.30" font-size="21" fill="#000" textLength="65.24" lengthAdjust="spacingAndGlyphs">moving</text>
<text x="1564.34" y="66.30" font-size="21" fill="#000" textLength="80.51" lengthAdjust="spacingAndGlyphs">average)</text>
<text transform="translate(25.00,432.88) rotate(-90)" font-size="21" fill="#000" textLength="66.56" lengthAdjust="spacingAndGlyphs">Ρυθμός</text>
<text transform="translate(25.00,358.40) rotate(-90)" font-size="21" fill="#000" textLength="93.28" lengthAdjust="spacingAndGlyphs">μεταβολής</text>
<text transform="translate(25.00,257.88) rotate(-90)" font-size="21" fill="#000" textLength="113.26" lengthAdjust="spacingAndGlyphs">κρουσμάτων</text>
<rect x="97" y="19.5" width="33" height="11.2" fill="#a6a6a6"/>
<line x1="96.5" y1="59.2" x2="130.2" y2="59.2" stroke="#4472c4" stroke-width="2.0"/>
<line x1="942.4" y1="25.1" x2="975" y2="25.1" stroke="#ff0000" stroke-width="4.5" stroke-linecap="round" stroke-dasharray="11.2 16.7"/>
<line x1="941.3" y1="59.0" x2="975.9" y2="59.0" stroke="#ed7d31" stroke-width="2.0"/>
</svg>
</body></html>
